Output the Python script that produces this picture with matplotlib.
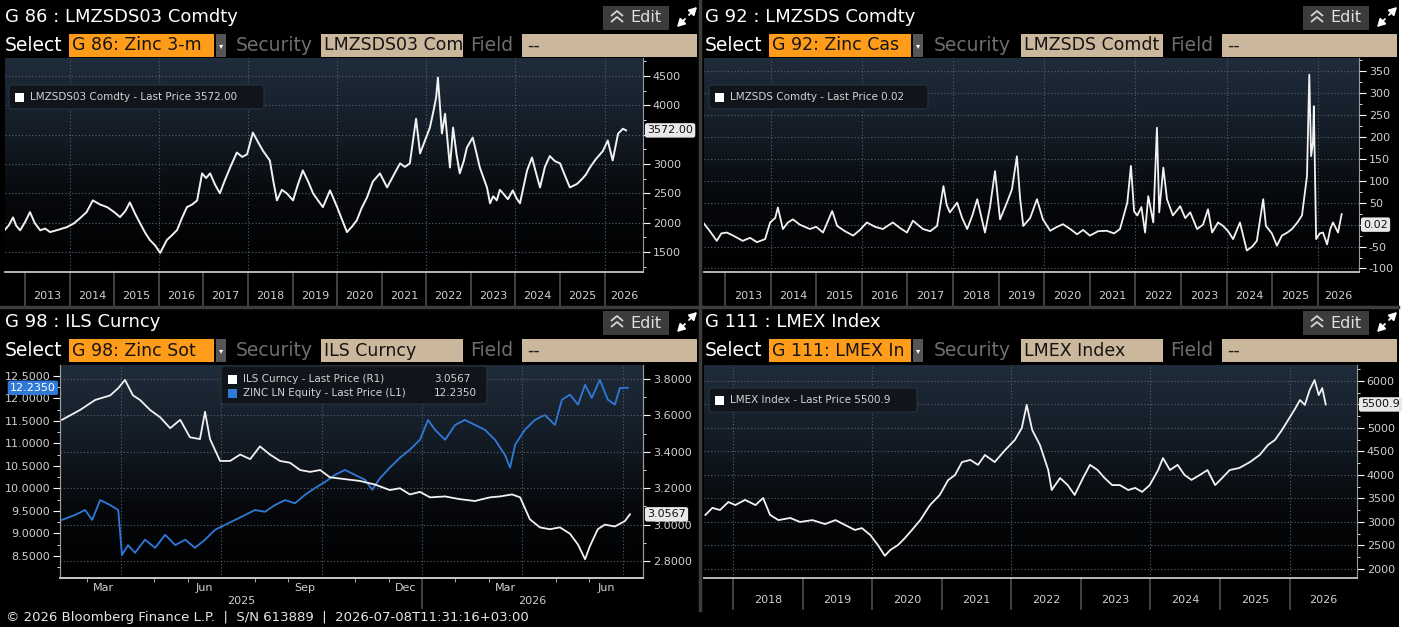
import numpy as np
import matplotlib.pyplot as plt
import matplotlib.transforms as mtransforms
from matplotlib.patches import Rectangle, FancyBboxPatch
from matplotlib.ticker import MultipleLocator, FormatStrFormatter
from matplotlib.colors import LinearSegmentedColormap

W, H = 1407, 627

# ---- G 86 : LMZSDS03 Comdty (zinc 3-month) ----
zinc3m_year = [2012.55, 2012.64, 2012.73, 2012.80, 2012.89, 2013.00, 2013.11, 2013.22, 2013.34,
               2013.45, 2013.56, 2013.75, 2013.94, 2014.10, 2014.23, 2014.38, 2014.52, 2014.68,
               2014.84, 2015.00, 2015.13, 2015.25, 2015.35, 2015.47, 2015.58, 2015.70, 2015.80,
               2015.92, 2016.03, 2016.18, 2016.30, 2016.41, 2016.52, 2016.63, 2016.75, 2016.86,
               2016.97, 2017.06, 2017.15, 2017.26, 2017.37, 2017.48, 2017.60, 2017.75, 2017.87,
               2017.98, 2018.11, 2018.22, 2018.34, 2018.49, 2018.57, 2018.65, 2018.76, 2018.87,
               2019.01, 2019.12, 2019.23, 2019.35, 2019.46, 2019.57, 2019.68, 2019.84, 2020.00,
               2020.11, 2020.22, 2020.33, 2020.44, 2020.55, 2020.67, 2020.80, 2020.96, 2021.12,
               2021.26, 2021.41, 2021.52, 2021.63, 2021.77, 2021.86, 2021.97, 2022.08, 2022.16,
               2022.22, 2022.26, 2022.35, 2022.42, 2022.53, 2022.60, 2022.68, 2022.75, 2022.84,
               2022.91, 2023.04, 2023.12, 2023.20, 2023.36, 2023.43, 2023.50, 2023.58, 2023.65,
               2023.72, 2023.83, 2023.94, 2024.02, 2024.10, 2024.26, 2024.37, 2024.46, 2024.55,
               2024.66, 2024.77, 2024.88, 2025.00, 2025.11, 2025.22, 2025.38, 2025.50, 2025.58,
               2025.67, 2025.80, 2025.96, 2026.07, 2026.18, 2026.30, 2026.41, 2026.48]
zinc3m_val = [1880, 1960, 2090, 1950, 1870, 2010, 2180, 1990, 1870,
              1900, 1840, 1880, 1925, 1990, 2075, 2180, 2380, 2310,
              2265, 2180, 2095, 2200, 2345, 2150, 1990, 1820, 1705,
              1610, 1485, 1705, 1790, 1875, 2080, 2265, 2310, 2380,
              2840, 2760, 2840, 2650, 2500, 2720, 2940, 3195, 3120,
              3165, 3535, 3380, 3220, 3060, 2700, 2380, 2560, 2500,
              2380, 2650, 2890, 2700, 2500, 2380, 2265, 2550, 2265,
              2050, 1840, 1930, 2040, 2250, 2430, 2700, 2840, 2600,
              2800, 3010, 2950, 3010, 3770, 3180, 3400, 3620, 3900,
              4130, 4470, 3520, 3855, 2940, 3620, 3150, 2840, 3050,
              3280, 3450, 3200, 2940, 2600, 2330, 2450, 2380, 2560,
              2500, 2400, 2550, 2420, 2330, 2890, 3110, 2850, 2600,
              2950, 3135, 3050, 3010, 2800, 2600, 2660, 2750, 2820,
              2940, 3080, 3220, 3400, 3060, 3515, 3600, 3572]
zinc3m_last = 3572.00

# ---- G 92 : LMZSDS Comdty (zinc cash-3m spread) ----
spread_year = [2012.52, 2012.67, 2012.82, 2012.92, 2013.04, 2013.18, 2013.39, 2013.55, 2013.70,
               2013.88, 2013.99, 2014.10, 2014.16, 2014.27, 2014.38, 2014.49, 2014.64, 2014.86,
               2015.00, 2015.15, 2015.35, 2015.46, 2015.63, 2015.81, 2015.96, 2016.11, 2016.29,
               2016.46, 2016.68, 2016.84, 2016.99, 2017.12, 2017.34, 2017.50, 2017.65, 2017.79,
               2017.86, 2017.93, 2018.09, 2018.20, 2018.31, 2018.42, 2018.53, 2018.70, 2018.81,
               2018.92, 2019.03, 2019.18, 2019.29, 2019.40, 2019.47, 2019.54, 2019.69, 2019.84,
               2019.97, 2020.13, 2020.28, 2020.41, 2020.57, 2020.72, 2020.85, 2021.00, 2021.18,
               2021.37, 2021.53, 2021.66, 2021.82, 2021.90, 2021.97, 2022.04, 2022.13, 2022.21,
               2022.28, 2022.39, 2022.47, 2022.52, 2022.61, 2022.69, 2022.82, 2022.98, 2023.09,
               2023.20, 2023.35, 2023.48, 2023.59, 2023.68, 2023.81, 2023.92, 2024.03, 2024.14,
               2024.29, 2024.44, 2024.56, 2024.66, 2024.80, 2024.86, 2024.99, 2025.10, 2025.21,
               2025.33, 2025.43, 2025.55, 2025.65, 2025.76, 2025.81, 2025.85, 2025.89, 2025.91,
               2025.96, 2026.04, 2026.11, 2026.20, 2026.27, 2026.33, 2026.44, 2026.52]
spread_val = [5, -15, -37, -20, -18, -25, -37, -30, -40,
              -33, 5, 15, 39, -10, 5, 12, 0, -10,
              -5, -18, 31, -3, -15, -25, -12, 5, -5,
              -10, 5, -8, -18, 9, -10, -15, -3, 88,
              45, 28, 50, 15, -10, 20, 58, -18, 40,
              122, 12, 50, 80, 156, 60, -3, 15, 58,
              12, -14, -5, 1, -10, -22, -12, -25, -15,
              -14, -20, -10, 50, 134, 30, 21, 40, -18,
              65, 5, 221, 28, 130, 58, 21, 42, 15,
              28, -10, 0, 35, -18, 5, -3, -15, -33,
              5, -59, -50, -37, 58, -3, -20, -48, -25,
              -18, -10, 5, 21, 111, 342, 156, 187, 270,
              -33, -20, -18, -45, -10, 5, -18, 24]
spread_last = 0.02

# ---- G 98 : ILS Curncy (R1) vs ZINC LN Equity (L1), x = months since 2025-01-01 ----
ils_month = [1.25, 1.79, 2.24, 2.69, 2.93, 3.13, 3.37, 3.58, 3.88, 4.18, 4.48, 4.78, 5.07, 5.37,
             5.52, 5.67, 5.97, 6.27, 6.57, 6.87, 7.16, 7.46, 7.76, 8.06, 8.36, 8.66, 8.96, 9.25,
             9.70, 10.15, 10.60, 11.04, 11.34, 11.64, 11.94, 12.24, 12.69, 13.13, 13.58, 14.03,
             14.33, 14.69, 14.93, 15.22, 15.52, 15.82, 16.12, 16.42, 16.66, 16.87, 17.01, 17.25,
             17.46, 17.76, 18.06, 18.21]
ils_val = [3.576, 3.63, 3.685, 3.71, 3.75, 3.795, 3.71, 3.685, 3.63, 3.59, 3.53, 3.576, 3.48, 3.47,
           3.62, 3.47, 3.35, 3.35, 3.385, 3.36, 3.43, 3.385, 3.35, 3.34, 3.30, 3.29, 3.30, 3.26,
           3.25, 3.24, 3.22, 3.19, 3.20, 3.166, 3.18, 3.15, 3.155, 3.14, 3.13, 3.15,
           3.155, 3.166, 3.15, 3.03, 2.985, 2.975, 2.985, 2.95, 2.89, 2.81, 2.88, 2.975,
           3.0, 2.99, 3.02, 3.0567]
zincln_month = [1.25, 1.64, 1.94, 2.15, 2.39, 2.69, 2.93, 3.04, 3.22, 3.43, 3.73, 4.03, 4.33, 4.63,
                4.93, 5.22, 5.52, 5.82, 6.12, 6.42, 6.72, 7.01, 7.31, 7.61, 7.91, 8.21, 8.51, 8.81,
                9.10, 9.40, 9.70, 10.00, 10.30, 10.51, 10.75, 11.04, 11.34, 11.64, 11.94, 12.18,
                12.39, 12.69, 12.99, 13.28, 13.58, 13.88, 14.18, 14.48, 14.63, 14.78, 15.07, 15.37,
                15.67, 15.97, 16.18, 16.42, 16.66, 16.87, 17.07, 17.31, 17.55, 17.76, 17.91, 18.15]
zincln_val = [9.3, 9.41, 9.52, 9.3, 9.74, 9.63, 9.52, 8.52, 8.74, 8.57, 8.86, 8.68, 8.97, 8.74,
              8.86, 8.68, 8.86, 9.08, 9.19, 9.3, 9.41, 9.52, 9.48, 9.63, 9.74, 9.67, 9.86, 10.01,
              10.14, 10.3, 10.41, 10.3, 10.19, 9.97, 10.23, 10.46, 10.68, 10.86, 11.08, 11.52,
              11.3, 11.08, 11.41, 11.52, 11.41, 11.3, 11.08, 10.74, 10.46, 10.97, 11.3, 11.52,
              11.63, 11.41, 11.97, 12.08, 11.86, 12.3, 12.01, 12.41, 11.97, 11.86, 12.23, 12.235]
ils_last = 3.0567
zincln_last = 12.2350
month_labels = ["Mar", "Jun", "Sep", "Dec", "Mar", "Jun"]
month_label_pos = [2.5, 5.5, 8.5, 11.5, 14.5, 17.5]

# ---- G 111 : LMEX Index ----
lmex_year = [2017.60, 2017.70, 2017.81, 2017.93, 2018.03, 2018.17, 2018.32, 2018.43, 2018.53,
             2018.65, 2018.82, 2018.96, 2019.14, 2019.32, 2019.47, 2019.61, 2019.75, 2019.85,
             2019.97, 2020.08, 2020.18, 2020.26, 2020.37, 2020.47, 2020.57, 2020.69, 2020.83,
             2020.97, 2021.09, 2021.19, 2021.29, 2021.41, 2021.52, 2021.62, 2021.76, 2021.91,
             2022.05, 2022.15, 2022.22, 2022.30, 2022.41, 2022.53, 2022.58, 2022.70, 2022.81,
             2022.91, 2023.03, 2023.13, 2023.24, 2023.34, 2023.45, 2023.56, 2023.68, 2023.78,
             2023.88, 2023.99, 2024.11, 2024.18, 2024.28, 2024.39, 2024.49, 2024.59, 2024.71,
             2024.82, 2024.93, 2025.03, 2025.14, 2025.28, 2025.43, 2025.57, 2025.69, 2025.79,
             2025.89, 2025.98, 2026.07, 2026.15, 2026.22, 2026.29, 2026.36, 2026.42, 2026.47,
             2026.52]
lmex_val = [3150, 3300, 3255, 3425, 3360, 3470, 3360, 3510, 3150,
            3040, 3085, 3000, 3040, 2955, 3040, 2935, 2830, 2870,
            2725, 2510, 2280, 2405, 2510, 2660, 2830, 3040, 3360,
            3575, 3890, 4000, 4275, 4320, 4215, 4425, 4275, 4530,
            4745, 5000, 5490, 4955, 4640, 4105, 3680, 3935, 3785,
            3575, 3935, 4215, 4105, 3935, 3785, 3785, 3680, 3725,
            3640, 3785, 4105, 4360, 4105, 4215, 4000, 3895, 4000,
            4105, 3785, 3935, 4105, 4150, 4275, 4425, 4640, 4745,
            4955, 5170, 5385, 5595, 5490, 5810, 6020, 5700, 5850,
            5501]
lmex_last = 5500.9

TICK = '#cfcfcf'
GRID = '#58626e'
LINE = '#f2f2f2'
BLUE = '#2f7ad8'
ORANGE = '#ff9c1a'
TAN = '#cbb79c'
FS_HEAD = 13.5
FS_BOX = 12.5
FS_TICK = 8

fig = plt.figure(figsize=(W / 100, H / 100), dpi=100, facecolor='black')
bg = fig.add_axes([0, 0, 1, 1], zorder=0)
bg.set_axis_off()
over = fig.add_axes([0, 0, 1, 1], zorder=30)
over.set_axis_off()
over.patch.set_alpha(0)

cmap = LinearSegmentedColormap.from_list('bbg', ['#1f2c3b', '#141d27', '#06080b', '#000000'])
grad = np.linspace(0, 1, 256).reshape(-1, 1)


def px_axes(x0, y0, x1, y1):
    # axes placed by pixel box (y from top)
    bg.imshow(grad, cmap=cmap, extent=(x0, x1, y1, y0), aspect='auto',
              interpolation='bilinear', zorder=0)
    ax = fig.add_axes([x0 / W, 1 - y1 / H, (x1 - x0) / W, (y1 - y0) / H], zorder=10)
    ax.set_facecolor('none')
    return ax


def clipped_text(box, x, y, s):
    t = bg.text(x, y, s, color='#141414', fontsize=FS_BOX, va='center')
    t.set_clip_on(True)
    t.set_clip_path(box)


def header(dx, dy, title, sel, sec, sel_end, sec_x):
    bg.text(dx + 5, dy + 17, title, color='white', fontsize=13, va='center')
    # edit button
    bg.add_patch(Rectangle((dx + 603, dy + 6), 66, 24, fc='#3c3c3c', ec='none'))
    for cy in (13, 19):
        bg.plot([dx + 611, dx + 617, dx + 623], [dy + cy + 3, dy + cy - 2, dy + cy + 3],
                color='#d5d5d5', lw=1.3, solid_capstyle='butt')
    bg.text(dx + 630, dy + 18, 'Edit', color='#e0e0e0', fontsize=11.5, va='center')
    arr = dict(arrowstyle='-|>,head_length=0.45,head_width=0.25', color='white', lw=1.3,
               shrinkA=0, shrinkB=0)
    bg.annotate('', xy=(dx + 697, dy + 7), xytext=(dx + 689, dy + 15), arrowprops=arr)
    bg.annotate('', xy=(dx + 677, dy + 27), xytext=(dx + 685, dy + 19), arrowprops=arr)
    # select row
    bg.text(dx + 5, dy + 45.5, 'Select', color='white', fontsize=FS_HEAD, va='center')
    box = Rectangle((dx + 69, dy + 34), sel_end - 69, 23, fc=ORANGE, ec='none')
    bg.add_patch(box)
    clipped_text(box, dx + 72, dy + 45.5, sel)
    bg.add_patch(Rectangle((dx + sel_end + 2, dy + 34), 10, 23, fc='#555555', ec='none'))
    bg.text(dx + sel_end + 7, dy + 45.5, '\u25be', color='white', fontsize=6,
            ha='center', va='center')
    bg.text(dx + sec_x, dy + 45.5, 'Security', color='#6e6e6e', fontsize=FS_HEAD, va='center')
    box = Rectangle((dx + 321, dy + 34), 142, 23, fc=TAN, ec='none')
    bg.add_patch(box)
    clipped_text(box, dx + 324, dy + 45.5, sec)
    bg.text(dx + 470, dy + 45.5, 'Field', color='#6e6e6e', fontsize=FS_HEAD, va='center')
    bg.add_patch(Rectangle((dx + 522, dy + 34), 175, 23, fc=TAN, ec='none'))
    bg.text(dx + 527, dy + 45.5, '--', color='#1e1e1e', fontsize=FS_BOX, va='center')


def style(ax):
    for s in ('left', 'top'):
        ax.spines[s].set_visible(False)
    ax.spines['right'].set_color('#9a9a9a')
    ax.spines['bottom'].set_color('#c4c4c4')
    ax.spines['bottom'].set_linewidth(1.3)
    ax.yaxis.tick_right()
    ax.tick_params(axis='y', which='both', colors='white', labelcolor=TICK, labelsize=FS_TICK,
                   direction='out', pad=2)
    ax.tick_params(axis='y', which='major', length=5)
    ax.tick_params(axis='y', which='minor', length=2.5)
    ax.tick_params(axis='x', which='both', length=0, labelbottom=False)
    ax.grid(True, which='major', color=GRID, linestyle=(0, (1, 2)), lw=0.8)


def y_ticks(ax, ticks, fmt, hidden=None):
    # the last-price tag covers the tick label closest to it
    labels = ['' if hidden is not None and abs(t - hidden) < 1e-9 else fmt.format(t)
              for t in ticks]
    ax.set_yticks(ticks, labels=labels)


def year_axis(ax, first, xmin, xmax, ylab, ysep):
    trans = mtransforms.blended_transform_factory(ax.transData, ax.transAxes)
    for yr in range(first, int(xmax) + 1):
        ax.plot([yr, yr], [0, ysep], transform=trans, color='#4d4d4d', lw=1.2, clip_on=False)
        center = min(yr + 0.5, (yr + xmax) / 2)
        ax.text(center, ylab, str(yr), transform=trans, ha='center', va='center',
                color=TICK, fontsize=FS_TICK)
    ax.set_xlim(xmin, xmax)


def last_tag(ax, y, text, side='right', fc='#e9e9e9', tc='#111111'):
    if side == 'right':
        xy, off, ha = (1, y), (3, 0), 'left'
    else:
        xy, off, ha = (0, y), (-3, 0), 'right'
    ax.annotate(text, xy=xy, xycoords=ax.get_yaxis_transform(), xytext=off,
                textcoords='offset points', ha=ha, va='center', fontsize=FS_TICK, color=tc,
                bbox=dict(boxstyle='round,pad=0.2', fc=fc, ec='none'),
                annotation_clip=False, zorder=20)


def legend_box(x0, y0, x1, y1):
    over.add_patch(FancyBboxPatch((x0, y0), x1 - x0, y1 - y0,
                                  boxstyle='round,pad=0,rounding_size=3',
                                  fc='#10151b', ec='#2b323a', lw=0.8))


def legend_row(x, y, color, text, value=None, value_x=None):
    over.add_patch(Rectangle((x, y - 4.5), 9, 9, fc=color, ec='none'))
    over.text(x + 15, y, text, color='#d2d2d2', fontsize=7.5, va='center')
    if value is not None:
        over.text(value_x, y, value, color='#d2d2d2', fontsize=7.5, va='center')


# ---------------- panel 1 ----------------
header(0, 0, 'G 86 : LMZSDS03 Comdty', 'G 86: Zinc 3-m', 'LMZSDS03 Com', 214, 236)
ax1 = px_axes(5, 58, 643, 272)
style(ax1)
ax1.plot(zinc3m_year, zinc3m_val, color=LINE, lw=1.4)
y_ticks(ax1, list(range(1500, 4501, 500)), '{:.0f}', hidden=3500)
ax1.yaxis.set_minor_locator(MultipleLocator(250))
ax1.set_xticks(range(2014, 2027, 2))
ax1.set_ylim(1160, 4805)
year_axis(ax1, 2013, 2012.55, 2026.86, -0.112, -0.154)
last_tag(ax1, zinc3m_last, f'{zinc3m_last:.2f}')
legend_box(9, 85, 264, 109)
legend_row(15, 97, 'white', f'LMZSDS03 Comdty - Last Price {zinc3m_last:.2f}')

# ---------------- panel 2 ----------------
header(700, 0, 'G 92 : LMZSDS Comdty', 'G 92: Zinc Cas', 'LMZSDS Comdt', 211, 234)
ax2 = px_axes(704, 58, 1359, 272)
style(ax2)
ax2.plot(spread_year, spread_val, color=LINE, lw=1.3)
y_ticks(ax2, list(range(-100, 351, 50)), '{:.0f}', hidden=0)
ax2.yaxis.set_minor_locator(MultipleLocator(25))
ax2.set_xticks(range(2014, 2027, 2))
ax2.set_ylim(-108, 380)
year_axis(ax2, 2013, 2012.54, 2026.90, -0.112, -0.154)
last_tag(ax2, spread_last, f'{spread_last:.2f}')
legend_box(709, 85, 928, 109)
legend_row(715, 97, 'white', f'LMZSDS Comdty - Last Price {spread_last:.2f}')

# ---------------- panel 3 ----------------
header(0, 305, 'G 98 : ILS Curncy', 'G 98: Zinc Sot', 'ILS Curncy', 214, 236)
ax3 = px_axes(60, 365, 643, 578)
ax3r = ax3.twinx()
ax3r.set_facecolor('none')
for a in (ax3, ax3r):
    a.spines['top'].set_visible(False)
    a.spines['left'].set_color('#9a9a9a')
    a.spines['right'].set_color('#9a9a9a')
    a.spines['bottom'].set_color('#c4c4c4')
    a.spines['bottom'].set_linewidth(1.3)
    a.tick_params(axis='y', which='both', colors='white', labelcolor=TICK, labelsize=FS_TICK,
                  direction='out', pad=2)
    a.tick_params(axis='y', which='major', length=5)
    a.tick_params(axis='y', which='minor', length=2.5)
ax3.plot(zincln_month, zincln_val, color=BLUE, lw=1.3)
ax3r.plot(ils_month, ils_val, color=LINE, lw=1.3)
ax3.set_yticks(np.arange(8.5, 12.51, 0.5))
ax3.yaxis.set_major_formatter(FormatStrFormatter('%.4f'))
ax3.yaxis.set_minor_locator(MultipleLocator(0.25))
ax3.set_ylim(8.01, 12.74)
ax3r.set_yticks(np.arange(2.8, 3.81, 0.2))
ax3r.yaxis.set_major_formatter(FormatStrFormatter('%.4f'))
ax3r.yaxis.set_minor_locator(MultipleLocator(0.1))
ax3r.set_ylim(2.707, 3.877)
ax3.set_xticks(range(3, 19, 3))
ax3.xaxis.set_minor_locator(MultipleLocator(1))
ax3.tick_params(axis='x', which='major', length=0, labelbottom=False)
ax3.tick_params(axis='x', which='minor', length=3, color='#c4c4c4', direction='out')
ax3.grid(True, axis='x', color=GRID, linestyle=(0, (1, 2)), lw=0.8)
ax3r.grid(True, axis='y', color=GRID, linestyle=(0, (1, 2)), lw=0.8)
trans3 = mtransforms.blended_transform_factory(ax3.transData, ax3.transAxes)
for pos, lab in zip(month_label_pos, month_labels):
    ax3.text(pos, -0.047, lab, transform=trans3, ha='center', va='center', color=TICK,
             fontsize=FS_TICK)
ax3.plot([12, 12], [0, -0.14], transform=trans3, color='#4d4d4d', lw=1.2, clip_on=False)
ax3.text((1.19 + 12) / 2, -0.108, '2025', transform=trans3, ha='center', va='center',
         color=TICK, fontsize=FS_TICK)
ax3.text((12 + 18.60) / 2, -0.108, '2026', transform=trans3, ha='center', va='center',
         color=TICK, fontsize=FS_TICK)
ax3.set_xlim(1.19, 18.60)
last_tag(ax3, zincln_last, f'{zincln_last:.4f}', side='left', fc=BLUE, tc='white')
last_tag(ax3r, ils_last, f'{ils_last:.4f}')
legend_box(221, 366, 487, 404)
legend_row(228, 379, 'white', 'ILS Curncy - Last Price (R1)', f'{ils_last:.4f}', 434)
legend_row(228, 393, BLUE, 'ZINC LN Equity - Last Price (L1)', f'{zincln_last:.4f}', 434)

# ---------------- panel 4 ----------------
header(700, 305, 'G 111 : LMEX Index', 'G 111: LMEX In', 'LMEX Index', 211, 234)
ax4 = px_axes(704, 365, 1357, 578)
style(ax4)
ax4.plot(lmex_year, lmex_val, color=LINE, lw=1.3)
y_ticks(ax4, list(range(2000, 6001, 500)), '{:.0f}', hidden=5500)
ax4.yaxis.set_minor_locator(MultipleLocator(250))
ax4.set_xticks(range(2018, 2027, 2))
ax4.set_ylim(1808, 6340)
year_axis(ax4, 2018, 2017.58, 2026.97, -0.103, -0.145)
last_tag(ax4, lmex_last, f'{lmex_last:.1f}')
legend_box(709, 388, 917, 412)
legend_row(715, 400, 'white', f'LMEX Index - Last Price {lmex_last:.1f}')

# ---------------- frame and footer ----------------
bg.plot([0, 1398], [307, 307], color='#3d3d3d', lw=2.5)
bg.plot([700, 700], [0, 610], color='#3d3d3d', lw=2.5)
bg.add_patch(Rectangle((1399, 0), 8, H, fc='white', ec='none'))
bg.text(6, 617, '\u00a9 2026 Bloomberg Finance L.P.  |  S/N 613889  |  2026-07-08T11:31:16+03:00',
        color='#e6e6e6', fontsize=9.5, va='center')

for a in (bg, over):
    a.set_xlim(0, W)
    a.set_ylim(H, 0)

fig.savefig('out.png', dpi=100, facecolor='black')
